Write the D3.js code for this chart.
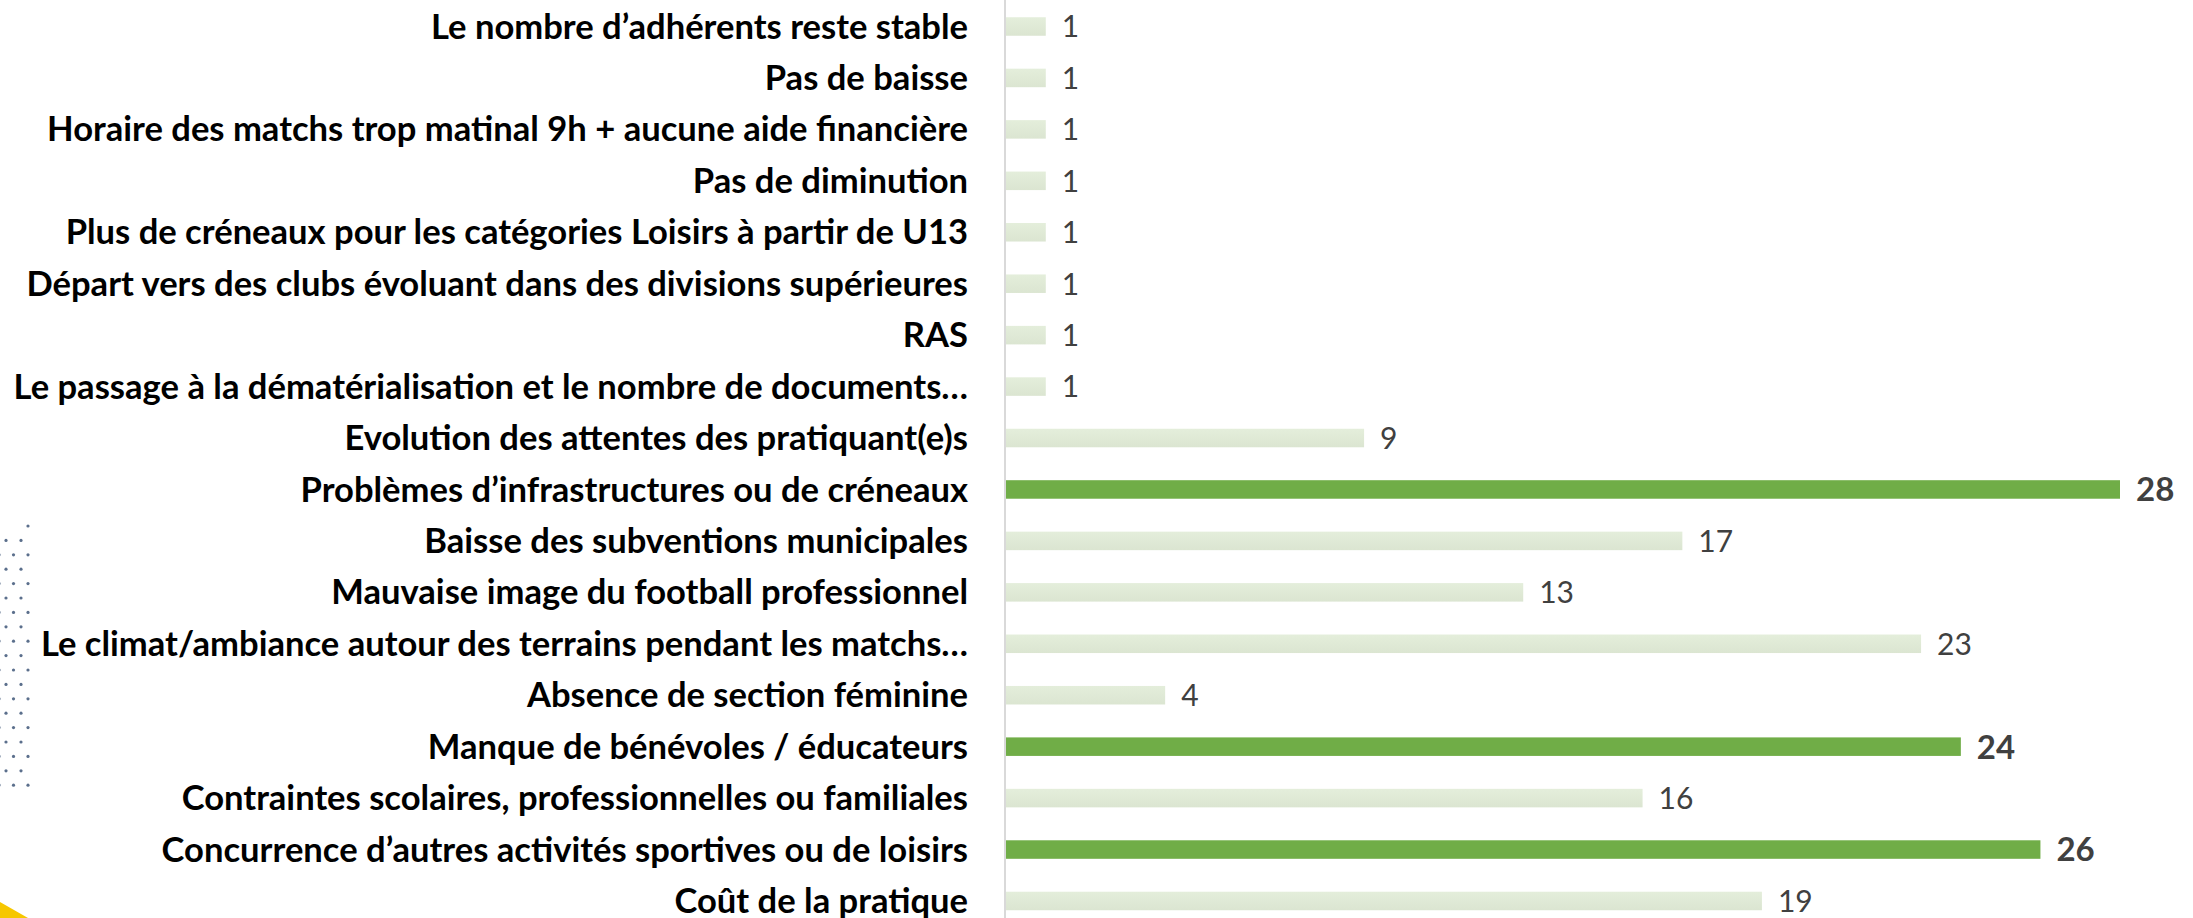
<!DOCTYPE html>
<html>
<head>
<meta charset="utf-8">
<script src="https://cdn.jsdelivr.net/npm/d3@7"></script>
<style>
  html, body { margin: 0; padding: 0; background: #fff; overflow: hidden; }
  svg { display: block; }
</style>
</head>
<body>
<div id="chart"></div>
<script>
// Categories, top to bottom as in the source slide
const categories = [
  "Le nombre d’adhérents reste stable",
  "Pas de baisse",
  "Horaire des matchs trop matinal 9h + aucune aide financière",
  "Pas de diminution",
  "Plus de créneaux pour les catégories Loisirs à partir de U13",
  "Départ vers des clubs évoluant dans des divisions supérieures",
  "RAS",
  "Le passage à la dématérialisation et le nombre de documents…",
  "Evolution des attentes des pratiquant(e)s",
  "Problèmes d’infrastructures ou de créneaux",
  "Baisse des subventions municipales",
  "Mauvaise image du football professionnel",
  "Le climat/ambiance autour des terrains pendant les matchs…",
  "Absence de section féminine",
  "Manque de bénévoles / éducateurs",
  "Contraintes scolaires, professionnelles ou familiales",
  "Concurrence d’autres activités sportives ou de loisirs",
  "Coût de la pratique"
]
const values = [1, 1, 1, 1, 1, 1, 1, 1, 9, 28, 17, 13, 23, 4, 24, 16, 26, 19]
const highlighted = [
  "Problèmes d’infrastructures ou de créneaux",
  "Manque de bénévoles / éducateurs",
  "Concurrence d’autres activités sportives ou de loisirs"
]

const W = 2193
const H = 918
const axisX = 1005
const step = 51.44
const bandTop = 26.5 - step / 2

const data = categories.map((c, i) => ({ cat: c, value: values[i], hl: highlighted.includes(c) }))

const svg = d3.select("#chart").append("svg").attr("width", W).attr("height", H)

// Gradient for the pale bars
const defs = svg.append("defs")
const pale = defs.append("linearGradient").attr("id", "pale").attr("x1", 0).attr("y1", 0).attr("x2", 0).attr("y2", 1)
pale.append("stop").attr("offset", "0%").attr("stop-color", "#e4eedb")
pale.append("stop").attr("offset", "100%").attr("stop-color", "#dbe5d1")

// Background decoration: dot grid on the left edge
const deco = svg.append("g").attr("class", "deco")
const dots = []
for (let r = 0; r < 19; r++) {
  const yy = 526 + r * 14.4
  const xs = r === 0 ? [28] : r % 2 === 1 ? [6, 21] : [-1, 13.5, 28]
  xs.forEach((xx) => dots.push([xx, yy]))
}
deco
  .selectAll("circle")
  .data(dots)
  .enter()
  .append("circle")
  .attr("cx", (d) => d[0])
  .attr("cy", (d) => d[1])
  .attr("r", 1.6)
  .style("fill", "#5b6f8c")

// Yellow corner shape
deco
  .append("path")
  .attr("d", "M0,902 Q14,910 28,918 L0,918 Z")
  .style("fill", "#f6c700")

// Scales
const x = d3.scaleLinear().domain([0, 28]).range([axisX + 1, 2120])
const y = d3
  .scaleBand()
  .domain(categories)
  .range([bandTop, bandTop + step * categories.length])
  .paddingInner(0.64)
  .paddingOuter(0.32)

// Category axis
const yAxis = d3.axisLeft(y).tickSize(0).tickPadding(37)
const gy = svg.append("g").attr("transform", `translate(${axisX},0)`).call(yAxis)
gy.select(".domain").remove()
gy.selectAll("text")
  .style("font-family", "Lato, 'Open Sans', sans-serif")
  .style("font-weight", 700)
  .style("fill", "#000")
  .style("font-size", "31px")
  .attr("dy", "0.35em")

// Fit label font: the "Horaire..." label spans about 931px in the source
// (a touch less so the ellipsis labels don't run into the dots)
let refW = 0
gy.selectAll("text").each(function (d) {
  if (d === categories[2]) refW = this.getComputedTextLength()
})
const fs = (31 * 921) / refW
gy.selectAll("text").style("font-size", fs.toFixed(2) + "px")

// Vertical axis line
svg
  .append("line")
  .attr("x1", axisX)
  .attr("x2", axisX)
  .attr("y1", 0)
  .attr("y2", H)
  .style("stroke", "#d9d9d9")
  .style("stroke-width", 2)

// Bars
svg
  .selectAll(".bar")
  .data(data)
  .enter()
  .append("rect")
  .attr("class", "bar")
  .attr("x", x(0))
  .attr("y", (d) => y(d.cat))
  .attr("width", (d) => x(d.value) - x(0))
  .attr("height", y.bandwidth())
  .style("fill", (d) => (d.hl ? "#70ad47" : "url(#pale)"))

// Value labels
svg
  .selectAll(".val")
  .data(data)
  .enter()
  .append("text")
  .attr("class", "val")
  .attr("x", (d) => x(d.value) + 16)
  .attr("y", (d) => y(d.cat) + y.bandwidth() / 2)
  .attr("dy", "0.36em")
  .style("font-family", "Lato, 'Open Sans', sans-serif")
  .style("font-size", (d) => (d.hl ? "33px" : "30px"))
  .style("font-weight", (d) => (d.hl ? 700 : 400))
  .style("fill", "#404040")
  .text((d) => d.value)
</script>
</body>
</html>
